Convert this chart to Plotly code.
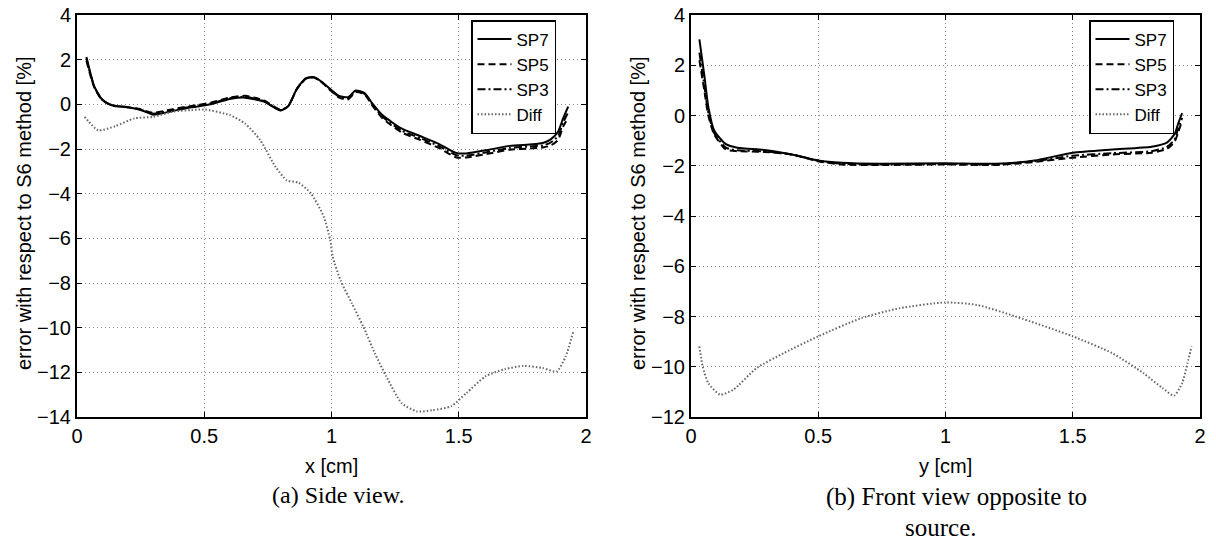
import plotly.graph_objects as go

# (a) side view
x_a = [0.037, 0.068, 0.098, 0.135, 0.195, 0.24, 0.285, 0.30, 0.375, 0.45, 0.525, 0.6, 0.66, 0.735, 0.80,
       0.83, 0.865, 0.90, 0.93, 0.96, 1.03, 1.065, 1.095, 1.13, 1.16, 1.2, 1.275, 1.35, 1.425, 1.49,
       1.53, 1.62, 1.7, 1.79, 1.83, 1.86, 1.89, 1.91, 1.93]
sp7_a = [2.12, 0.8, 0.23, -0.03, -0.13, -0.22, -0.4, -0.47, -0.3, -0.13, 0.0, 0.24, 0.3, 0.12, -0.28,
         -0.08, 0.72, 1.17, 1.22, 1.02, 0.38, 0.32, 0.62, 0.5, 0.05, -0.48, -1.08, -1.43, -1.79, -2.18,
         -2.2, -2.03, -1.86, -1.79, -1.73, -1.58, -1.23, -0.63, -0.1]
sp5_a = [1.95, 0.75, 0.2, -0.05, -0.12, -0.2, -0.35, -0.38, -0.22, -0.07, 0.07, 0.3, 0.38, 0.17, -0.25,
         -0.08, 0.7, 1.15, 1.2, 1.0, 0.3, 0.22, 0.55, 0.45, -0.05, -0.62, -1.25, -1.6, -1.97, -2.38,
         -2.38, -2.2, -2.03, -1.97, -1.93, -1.85, -1.6, -1.0, -0.6]
sp3_a = [2.05, 0.78, 0.22, -0.04, -0.12, -0.21, -0.37, -0.42, -0.26, -0.1, 0.04, 0.27, 0.34, 0.15, -0.26,
         -0.08, 0.71, 1.16, 1.21, 1.01, 0.34, 0.27, 0.58, 0.47, 0.0, -0.55, -1.17, -1.52, -1.88, -2.28,
         -2.3, -2.12, -1.95, -1.88, -1.84, -1.72, -1.42, -0.82, -0.35]
xd_a = [0.03, 0.083, 0.15, 0.225, 0.3, 0.375, 0.45, 0.5, 0.6, 0.66, 0.72, 0.78, 0.825, 0.87, 0.92,
        0.97, 0.995, 1.005, 1.035, 1.08, 1.125, 1.17, 1.215, 1.275, 1.335, 1.395, 1.47, 1.53, 1.605,
        1.68, 1.755, 1.83, 1.885, 1.92, 1.95]
diff_a = [-0.56, -1.16, -0.98, -0.63, -0.56, -0.33, -0.26, -0.23, -0.48, -0.86, -1.6, -2.8, -3.41, -3.5, -4.0,
          -5.04, -6.08, -6.83, -7.87, -8.91, -9.95, -11.14, -12.18, -13.37, -13.75, -13.7, -13.52, -12.93,
          -12.18, -11.86, -11.71, -11.81, -11.96, -11.29, -10.18]

# (b) front view
x_b = [0.033, 0.053, 0.068, 0.091, 0.137, 0.182, 0.289, 0.395, 0.5, 0.592, 0.744, 1.0, 1.2, 1.35, 1.5,
       1.655, 1.81, 1.87, 1.9, 1.915, 1.93]
sp7_b = [3.03, 1.55, 0.34, -0.6, -1.14, -1.28, -1.37, -1.55, -1.79, -1.88, -1.92, -1.9, -1.92, -1.79, -1.48,
         -1.35, -1.24, -1.08, -0.74, -0.3, 0.1]
sp5_b = [2.2, 0.95, 0.0, -0.75, -1.35, -1.42, -1.45, -1.55, -1.82, -1.95, -1.97, -1.95, -1.97, -1.85, -1.68,
         -1.55, -1.48, -1.33, -1.05, -0.65, -0.2]
sp3_b = [2.5, 1.15, 0.1, -0.7, -1.28, -1.38, -1.43, -1.55, -1.8, -1.92, -1.95, -1.93, -1.95, -1.82, -1.6,
         -1.5, -1.42, -1.25, -0.95, -0.5, -0.1]
xd_b = [0.033, 0.046, 0.068, 0.114, 0.167, 0.258, 0.364, 0.5, 0.668, 0.82, 1.0, 1.124, 1.276, 1.5, 1.655,
        1.777, 1.853, 1.898, 1.93, 1.951, 1.967]
diff_b = [-9.19, -9.99, -10.65, -11.11, -10.91, -10.05, -9.46, -8.79, -8.07, -7.67, -7.44, -7.54, -8.0, -8.79,
          -9.46, -10.25, -10.85, -11.15, -10.65, -9.85, -9.19]

names = ["SP7", "SP5", "SP3", "Diff"]
W, H = 1216, 544
SANS = "Liberation Sans"
SERIF = "Liberation Serif"


def px(x):
    return x / W


def py(y):
    return 1 - y / H


styles = {
    "SP7": dict(color="black", width=2, dash="solid"),
    "SP5": dict(color="black", width=2, dash="7px,4px"),
    "SP3": dict(color="black", width=2, dash="8px,3px,2px,3px"),
    "Diff": dict(color="#666666", width=2, dash="1.5px,2px"),
}

fig = go.Figure()
panels = [
    ("x", "y", "legend", [(x_a, sp7_a), (x_a, sp5_a), (x_a, sp3_a), (xd_a, diff_a)]),
    ("x2", "y2", "legend2", [(x_b, sp7_b), (x_b, sp5_b), (x_b, sp3_b), (xd_b, diff_b)]),
]
for xa, ya, leg, series in panels:
    for name, (xs, ys) in zip(names, series):
        fig.add_trace(go.Scatter(x=xs, y=ys, name=name, mode="lines", xaxis=xa, yaxis=ya,
                                 legend=leg, line=dict(shape="spline", smoothing=0.6, **styles[name])))

ax = dict(showline=True, linecolor="black", linewidth=2, mirror="ticks", ticks="inside", ticklen=5,
          tickcolor="black", showgrid=True, gridcolor="#8a8a8a", griddash="1px,3px", gridwidth=1,
          zeroline=False, automargin=False, ticklabeloverflow="allow",
          tickfont=dict(family=SANS, size=20, color="black"))

ydom = [py(417), py(15)]
leg = dict(y=py(20), xanchor="left", yanchor="top", bgcolor="white", bordercolor="black",
           borderwidth=1.5, font=dict(family=SANS, size=17), itemwidth=34, tracegroupgap=0)
fig.update_layout(
    width=W, height=H, margin=dict(l=0, r=0, t=0, b=0),
    plot_bgcolor="white", paper_bgcolor="white",
    font=dict(family=SANS, size=20, color="black"),
    xaxis=dict(domain=[px(77), px(586)], range=[0, 2], dtick=0.5, anchor="y", **ax),
    yaxis=dict(domain=ydom, range=[-14, 4], dtick=2, anchor="x", **ax),
    xaxis2=dict(domain=[px(691), px(1200)], range=[0, 2], dtick=0.5, anchor="y2", **ax),
    yaxis2=dict(domain=ydom, range=[-12, 4], dtick=2, anchor="x2", **ax),
    legend=dict(x=px(471), **leg),
    legend2=dict(x=px(1089), **leg),
)

ytitle = "error with respect to S6 method [%]"
notes = [
    dict(x=px(24), y=py(214), text=ytitle, textangle=-90, font=dict(family=SANS, size=20)),
    dict(x=px(638), y=py(214), text=ytitle, textangle=-90, font=dict(family=SANS, size=20)),
    dict(x=px(331), y=py(466), text="x [cm]", font=dict(family=SANS, size=20)),
    dict(x=px(945), y=py(466), text="y [cm]", font=dict(family=SANS, size=20)),
    dict(x=px(338), y=py(495), text="(a) Side view.", font=dict(family=SERIF, size=24)),
    dict(x=px(956), y=py(497), text="(b) Front view opposite to", font=dict(family=SERIF, size=25)),
    dict(x=px(941), y=py(527), text="source.", font=dict(family=SERIF, size=25)),
]
for n in notes:
    fig.add_annotation(xref="paper", yref="paper", xanchor="center", yanchor="middle",
                       showarrow=False, **n)

# drop the browser's default 8px body margin so the figure sits at the page corner
fig.write_html("out.html", config={"displayModeBar": False},
               post_script="document.body.style.margin = '0px';")
